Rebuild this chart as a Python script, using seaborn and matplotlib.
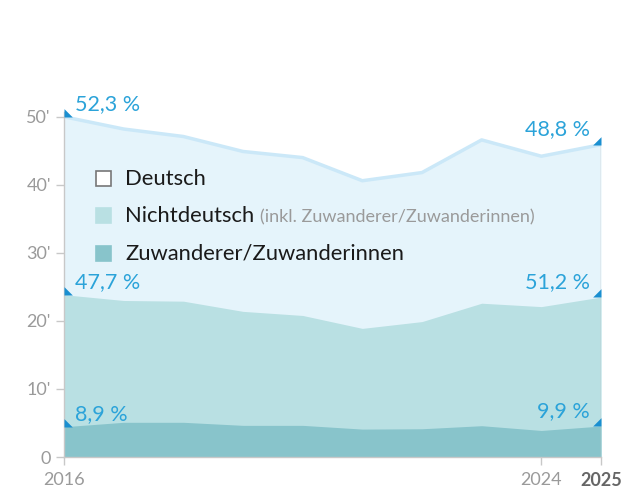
import numpy as np
import seaborn as sns
import matplotlib.pyplot as plt
from matplotlib.patches import Rectangle

# Bestand in Tausend
jahre = [2016, 2017, 2018, 2019, 2020, 2021, 2022, 2023, 2024, 2025]
gesamt = [50.0, 48.2, 47.1, 44.9, 44.0, 40.6, 41.8, 46.6, 44.2, 45.9]
nichtdeutsch = [23.85, 23.0, 22.9, 21.4, 20.8, 18.9, 19.9, 22.6, 22.1, 23.5]
zuwanderer = [4.45, 5.1, 5.1, 4.65, 4.65, 4.1, 4.15, 4.6, 3.9, 4.55]

anteil_start = ["52,3 %", "47,7 %", "8,9 %"]
anteil_ende = ["48,8 %", "51,2 %", "9,9 %"]

yticks = [0, 10, 20, 30, 40, 50]
ytick_labels = ["0", "10'", "20'", "30'", "40'", "50'"]
xticks = [2016, 2024, 2025]

legend_labels = ["Deutsch", "Nichtdeutsch", "Zuwanderer/Zuwanderinnen"]
legend_note = "(inkl. Zuwanderer/Zuwanderinnen)"

c_deutsch = "#e5f4fb"
c_line = "#cbe8f8"
c_nicht = "#b9e0e3"
c_zuw = "#88c4cb"
c_blue = "#2ba3d9"
c_tri = "#1a8fd0"
c_grey = "#9a9a9a"

sns.set_style("white")
plt.rcParams["font.family"] = ["Lato", "DejaVu Sans"]

fig = plt.figure(figsize=(6.38, 4.91), dpi=100)
ax = fig.add_axes([64 / 638, 34 / 491, 537 / 638, 345 / 491])

x = np.array(jahre)
ax.fill_between(x, 0, gesamt, color=c_deutsch, lw=0)
ax.fill_between(x, 0, nichtdeutsch, color=c_nicht, lw=0)
ax.fill_between(x, 0, zuwanderer, color=c_zuw, lw=0)
sns.lineplot(x=jahre, y=gesamt, ax=ax, color=c_line, lw=2.5)
ax.vlines(jahre[-1], 0, gesamt[-1], color="#c0c0c0", lw=1)

# Dreiecke und Anteile
tri_l = [(0, 0), (0, 1), (1, 0), (0, 0)]
tri_r = [(0, 0), (0, 1), (-1, 0), (0, 0)]
for serie, txt_a, txt_e in zip([gesamt, nichtdeutsch, zuwanderer], anteil_start, anteil_ende):
    ax.plot(jahre[0], serie[0], marker=tri_l, ms=12, color=c_tri, mew=0, clip_on=False, zorder=5)
    ax.plot(jahre[-1], serie[-1], marker=tri_r, ms=12, color=c_tri, mew=0, clip_on=False, zorder=5)
    ax.annotate(txt_a, (jahre[0], serie[0]), xytext=(8, 9), textcoords="offset points",
                ha="left", va="center", color=c_blue, fontsize=15.5)
    ax.annotate(txt_e, (jahre[-1], serie[-1]), xytext=(-8, 11), textcoords="offset points",
                ha="right", va="center", color=c_blue, fontsize=15.5)

ax.set_xlim(2016, 2025)
ax.set_ylim(0, 50.7)
ax.set_yticks(yticks)
ax.set_yticklabels(ytick_labels)
ax.set_xticks(xticks)
ax.set_xticklabels([str(t) for t in xticks])
ax.tick_params(axis="both", colors="#c8c8c8", labelcolor=c_grey, labelsize=13,
               length=6, width=1, direction="out", left=True, bottom=True)
ax.tick_params(axis="x", pad=5)
lbl = ax.get_xticklabels()[-1]
lbl.set_fontweight("bold")
lbl.set_color("#666666")

for s in ["top", "right"]:
    ax.spines[s].set_visible(False)
for s in ["left", "bottom"]:
    ax.spines[s].set_color("#c8c8c8")
    ax.spines[s].set_linewidth(1)

# Legende
leg_y = [179, 216, 254]
leg_face = ["white", c_nicht, c_zuw]
leg_edge = ["#777777", c_nicht, c_zuw]
for yy, fc, ec, lab in zip(leg_y, leg_face, leg_edge, legend_labels):
    fig.patches.append(Rectangle(((96) / 638, 1 - (yy + 7) / 491), 15 / 638, 15 / 491,
                                 transform=fig.transFigure, facecolor=fc, edgecolor=ec, lw=1.2))
    t = fig.text(125 / 638, 1 - yy / 491, lab, ha="left", va="center", fontsize=15.8, color="#1a1a1a")
    if lab == "Nichtdeutsch":
        fig.canvas.draw()
        bb = t.get_window_extent()
        fig.text((bb.x1 + 6) / 638, 1 - (yy + 1) / 491, legend_note, ha="left", va="center",
                 fontsize=13, color=c_grey)

fig.savefig("out.png", dpi=100)
